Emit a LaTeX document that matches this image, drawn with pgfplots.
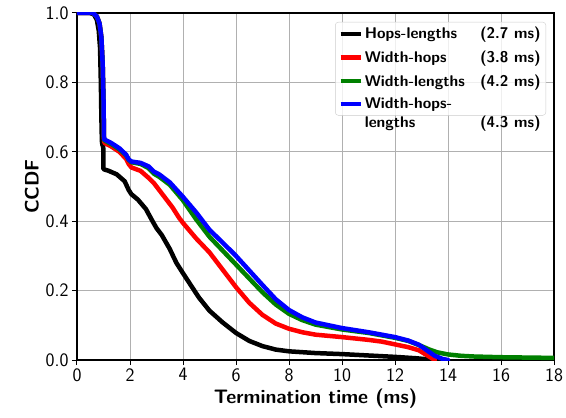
\documentclass[border=0pt]{standalone}
\usepackage{pgfplots}
\pgfplotsset{compat=1.18}
\definecolor{mplgreen}{RGB}{0,128,0}
\definecolor{gridgray}{RGB}{176,176,176}
\newlength{\legw}
\setlength{\legw}{176pt}
\begin{document}
\begin{tikzpicture}
\begin{axis}[
  name=ax,
  scale only axis,
  width=477pt, height=347pt,
  xmin=0, xmax=18, ymin=0, ymax=1,
  xtick={0,2,...,18},
  ytick={0,0.2,0.4,0.6,0.8,1.0},
  yticklabel style={/pgf/number format/.cd, fixed, fixed zerofill, precision=1},
  /pgf/number format/assume math mode=true,
  tick label style={font=\sffamily\fontsize{19}{22}\selectfont},
  label style={font=\sffamily\bfseries\fontsize{19.5}{22}\selectfont},
  xlabel={Termination time (ms)},
  ylabel={CCDF},
  tick align=outside,
  tick pos=left,
  major tick length=5pt,
  every tick/.style={black, line width=1pt},
  axis line style={line width=1.2pt},
  grid=major,
  major grid style={gridgray, line width=0.9pt},
  every axis plot/.append style={line width=4.5pt, line join=round, line cap=round},
  legend image code/.code={\draw[#1, line cap=butt] (0pt,0pt) -- (20pt,0pt);},
  legend cell align=left,
  legend style={
    at={(1,1)}, anchor=north east, xshift=-8pt, yshift=-9pt,
    font=\sffamily\bfseries\fontsize{15.5}{19}\selectfont,
    draw=black!20, fill=white, fill opacity=0.8, text opacity=1,
    rounded corners=3pt, inner sep=3pt, row sep=6.5pt,
  },
]
\addplot[black] coordinates {
(0,1.0) (0.5,1.0) (0.65,0.995) (0.75,0.98) (0.82,0.95) (0.87,0.9) (0.9,0.8)
(0.92,0.7) (0.94,0.63) (0.96,0.62) (0.99,0.615) (1.0,0.55) (1.2,0.545)
(1.5,0.535) (1.8,0.515) (1.95,0.49) (2.05,0.478) (2.3,0.462) (2.6,0.435)
(2.85,0.4) (3.0,0.38) (3.2,0.36) (3.5,0.32) (3.75,0.28) (4.0,0.25)
(4.3,0.215) (4.6,0.18) (5.0,0.142) (5.5,0.108) (6.0,0.078) (6.5,0.055)
(7.0,0.04) (7.5,0.03) (8,0.025) (9,0.02) (10,0.017) (11,0.013) (12,0.009)
(12.8,0.005) (13.5,0.0)
};
\addlegendentry{\makebox[\legw][l]{Hops-lengths\hfill(2.7 ms)}}
\addplot[red] coordinates {
(0,1.0) (0.6,1.0) (0.75,0.99) (0.85,0.97) (0.92,0.93) (0.97,0.85) (1.0,0.75)
(1.02,0.63) (1.05,0.625) (1.3,0.615) (1.6,0.6) (1.85,0.58) (1.95,0.565)
(2.05,0.555) (2.4,0.545) (2.7,0.525) (2.9,0.51) (3.05,0.495) (3.3,0.47)
(3.6,0.44) (3.85,0.41) (4.0,0.395) (4.5,0.35) (5.0,0.31) (5.5,0.26)
(6.0,0.21) (6.5,0.165) (7.0,0.13) (7.5,0.105) (8,0.09) (8.5,0.08)
(9,0.073) (10,0.066) (11,0.058) (11.5,0.053) (12,0.045) (12.5,0.037)
(12.9,0.028) (13.2,0.014) (13.5,0.0)
};
\addlegendentry{\makebox[\legw][l]{Width-hops\hfill(3.8 ms)}}
\addplot[mplgreen] coordinates {
(0,1.0) (0.6,1.0) (0.75,0.99) (0.85,0.97) (0.92,0.93) (0.97,0.85) (1.0,0.75)
(1.02,0.635) (1.05,0.632) (1.3,0.622) (1.6,0.607) (1.85,0.59) (1.95,0.577)
(2.05,0.57) (2.4,0.565) (2.7,0.553) (2.9,0.537) (3.1,0.528) (3.5,0.505)
(4.0,0.46) (4.5,0.405) (5.0,0.355) (5.5,0.315) (6.0,0.275) (6.5,0.235)
(7.0,0.195) (7.5,0.16) (8,0.133) (8.5,0.115) (9,0.102) (10,0.088)
(11,0.078) (12,0.064) (12.5,0.055) (13,0.04) (13.3,0.03) (13.6,0.022)
(14,0.016) (14.5,0.012) (15,0.01) (16,0.008) (17,0.007) (18,0.006)
};
\addlegendentry{\makebox[\legw][l]{Width-lengths\hfill(4.2 ms)}}
\addplot[blue] coordinates {
(0,1.0) (0.6,1.0) (0.75,0.99) (0.85,0.97) (0.92,0.93) (0.97,0.85) (1.0,0.75)
(1.02,0.637) (1.05,0.635) (1.3,0.625) (1.6,0.61) (1.85,0.592) (1.95,0.578)
(2.05,0.572) (2.4,0.568) (2.7,0.558) (2.9,0.543) (3.1,0.535) (3.5,0.512)
(4.0,0.47) (4.5,0.425) (5.0,0.375) (5.5,0.338) (6.0,0.3) (6.5,0.258)
(7.0,0.216) (7.5,0.175) (8,0.144) (8.5,0.123) (9,0.108) (10,0.092)
(11,0.08) (12,0.066) (12.5,0.056) (12.9,0.044) (13.2,0.028) (13.5,0.012)
(13.8,0.003) (14,0.0)
};
\addlegendentry{\parbox[t]{\legw}{Width-hops-\\\makebox[\legw][l]{lengths\hfill(4.3 ms)}}}
\end{axis}
\pgfresetboundingbox
\path ([shift={(-77pt,-57pt)}]ax.south west) rectangle ([shift={(12pt,13pt)}]ax.north east);
\end{tikzpicture}
\end{document}
